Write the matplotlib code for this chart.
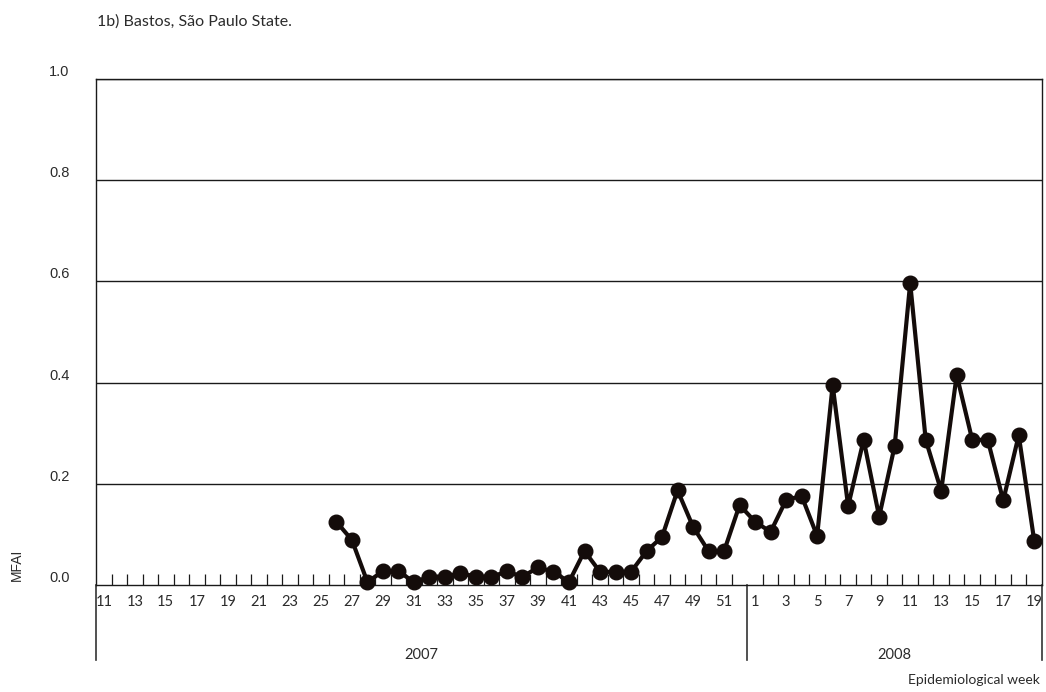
import numpy as np
import matplotlib
matplotlib.use("Agg")
import matplotlib.pyplot as plt

# weekly MFAI, Bastos, Sao Paulo State (None = no survey)
weeks_2007 = list(range(11, 53))
mfai_2007 = [None] * 15 + [
    0.125, 0.089, 0.006, 0.027, 0.027, 0.006, 0.016, 0.016, 0.024, 0.016,
    0.016, 0.027, 0.016, 0.035, 0.026, 0.006, 0.067, 0.026, 0.026, 0.026,
    0.067, 0.095, 0.187, 0.115, 0.067, 0.067, 0.158]
weeks_2008 = list(range(1, 20))
mfai_2008 = [0.125, 0.105, 0.168, 0.176, 0.097, 0.395, 0.156, 0.287, 0.135,
             0.275, 0.597, 0.287, 0.186, 0.415, 0.287, 0.287, 0.167, 0.296, 0.087]
years = ["2007", "2008"]
y_ticks = [0.0, 0.2, 0.4, 0.6, 0.8, 1.0]

week_labels = [str(w) for w in weeks_2007 + weeks_2008]
values = np.array([np.nan if v is None else v for v in mfai_2007 + mfai_2008])
x = np.arange(len(values))
n07 = len(weeks_2007)

ink = "#140c0a"
txt = "#2b2b2b"
fig = plt.figure(figsize=(10.46, 6.92), dpi=100)
ax = fig.add_axes([96 / 1046, 1 - 585 / 692, 946 / 1046, 506 / 692])

ax.set_xlim(-0.5, len(values) - 0.5)
ax.set_ylim(0, 1)

for g in y_ticks[1:]:
    ax.axhline(g, color="#1a1a1a", lw=1.0, zorder=1)

ax.plot(x, values, color=ink, lw=3.0, marker="o", ms=10.5, zorder=3, clip_on=False)

for s in ["top", "left", "right", "bottom"]:
    ax.spines[s].set_color("#1a1a1a")
    ax.spines[s].set_linewidth(1.0)

# y axis labels, no tick marks
ax.set_yticks(y_ticks)
ax.set_yticklabels(["%.1f" % t for t in y_ticks], family="Liberation Sans",
                   fontsize=10.5, color=txt, va="bottom")
ax.tick_params(axis="y", length=0, pad=19)

# week labels on odd weeks, small inward ticks at week boundaries
lab_pos = [i for i, w in enumerate(weeks_2007 + weeks_2008) if w % 2 == 1]
ax.set_xticks(lab_pos)
ax.set_xticklabels([week_labels[i] for i in lab_pos], family="Lato",
                   fontsize=10.5, color=txt)
ax.tick_params(axis="x", which="major", length=0, pad=7)
bounds = [b + 0.5 for b in range(len(values) - 1) if b != n07 - 1]
ax.set_xticks(bounds, minor=True)
ax.tick_params(axis="x", which="minor", direction="in", length=8,
               width=0.9, color="#1a1a1a")

# year separators below the axis
tr = ax.get_xaxis_transform()
for xs in [-0.5, n07 - 0.5, len(values) - 0.5]:
    ax.plot([xs, xs], [0, -0.148], transform=tr, color="#333333", lw=1.2,
            clip_on=False)
ax.text((n07 - 1) / 2, -0.138, years[0], transform=tr, ha="center",
        va="center", family="Lato", fontsize=10.5, color=txt)
ax.text((n07 + len(values) - 1) / 2, -0.138, years[1], transform=tr,
        ha="center", va="center", family="Lato", fontsize=10.5, color=txt)

fig.text(1040 / 1046, 1 - 680 / 692, "Epidemiological week", ha="right",
         va="center", family="Lato", fontsize=10, color=txt)
fig.text(17 / 1046, 1 - 565 / 692, "MFAI", rotation=90, ha="center",
         va="center", family="Liberation Sans", fontsize=10, color=txt)
fig.text(97 / 1046, 1 - 22 / 692, "1b) Bastos, São Paulo State.", ha="left",
         va="center", family="Lato", fontsize=11.5, color=txt)

fig.savefig("out.png", dpi=100)
